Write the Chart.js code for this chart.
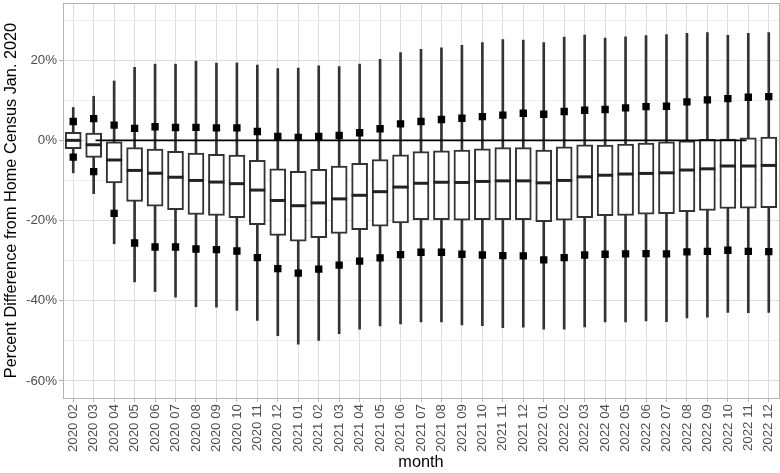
<!DOCTYPE html>
<html><head><meta charset="utf-8">
<script src="https://cdn.jsdelivr.net/npm/chart.js@4"></script>
<style>html,body{margin:0;padding:0;background:#fff}</style>
</head><body>
<canvas id="c" width="780" height="473"></canvas>
<script>
const months = ['2020 02','2020 03','2020 04','2020 05','2020 06','2020 07','2020 08','2020 09','2020 10','2020 11','2020 12',
 '2021 01','2021 02','2021 03','2021 04','2021 05','2021 06','2021 07','2021 08','2021 09','2021 10','2021 11','2021 12',
 '2022 01','2022 02','2022 03','2022 04','2022 05','2022 06','2022 07','2022 08','2022 09','2022 10','2022 11','2022 12'];
const whiskerHigh = [8.2,11.0,14.8,18.2,19.0,19.0,19.75,19.25,19.3,18.8,17.9,18.0,18.6,18.4,19.0,20.2,21.9,22.7,23.1,23.7,24.4,25.1,25.0,24.4,25.75,26.25,25.5,25.8,26.1,26.4,26.7,26.9,26.2,26.7,26.9];
const upperMark = [4.7,5.4,3.8,3.0,3.4,3.2,3.25,3.1,3.1,2.2,1.0,0.75,1.0,1.2,1.9,2.9,4.1,4.7,5.2,5.5,5.9,6.3,6.75,6.5,7.2,7.5,7.7,8.1,8.4,8.5,9.6,10.1,10.4,10.75,10.9];
const q3 = [2.0,1.8,-0.4,-1.8,-2.2,-2.75,-3.2,-3.5,-3.7,-5.0,-7.1,-7.75,-7.2,-6.4,-5.7,-4.8,-3.6,-2.8,-2.6,-2.4,-2.1,-1.8,-1.8,-2.4,-1.6,-1.1,-1.2,-0.9,-0.7,-0.4,-0.1,0.25,0.3,0.6,0.8];
const medians = [0.0,-1.1,-4.9,-7.5,-8.2,-9.2,-10.0,-10.4,-10.8,-12.4,-15.0,-16.3,-15.6,-14.6,-13.7,-12.8,-11.65,-10.7,-10.45,-10.5,-10.25,-10.1,-10.1,-10.6,-10.0,-9.1,-8.7,-8.4,-8.25,-8.1,-7.4,-7.1,-6.4,-6.4,-6.25];
const q1 = [-2.1,-4.25,-10.6,-15.2,-16.4,-17.3,-18.5,-18.75,-19.3,-21.05,-23.7,-25.15,-24.3,-23.2,-22.3,-21.4,-20.6,-19.8,-19.75,-19.9,-19.8,-19.8,-19.8,-20.3,-19.9,-19.3,-18.8,-18.7,-18.4,-18.3,-17.8,-17.5,-17.0,-16.9,-16.8];
const lowerMark = [-4.2,-7.8,-18.2,-25.6,-26.6,-26.6,-27.1,-27.25,-27.6,-29.25,-32.0,-33.1,-32.1,-31.1,-30.1,-29.3,-28.5,-27.9,-27.9,-28.4,-28.6,-28.75,-28.8,-29.8,-29.25,-28.6,-28.4,-28.3,-28.25,-28.3,-27.8,-27.7,-27.4,-27.7,-27.75];
const whiskerLow = [-8.1,-13.3,-25.8,-35.3,-37.7,-39.1,-41.5,-41.6,-42.4,-44.9,-48.7,-50.8,-49.9,-48.2,-47.1,-46.25,-45.75,-45.3,-45.3,-46.0,-46.2,-46.7,-46.6,-47.1,-47.1,-46.5,-45.3,-45.3,-45.0,-45.2,-44.3,-44.1,-42.9,-43.0,-42.9];
const yTicks = [-60,-50,-40,-30,-20,-10,0,10,20,30];
const refLine = [0, 0];

const FONT = 'Liberation Sans, Arial, sans-serif';
const GRID = '#dedede', MINOR = '#eeeeee', FRAME = '#b3b3b3';
const noPad = s => { s.paddingTop = 0; s.paddingBottom = 0; s.paddingLeft = 0; s.paddingRight = 0; };

new Chart(document.getElementById('c'), {
  type: 'bar',
  data: {
    labels: months,
    datasets: [
      { label: 'whisker', type: 'bar', data: months.map((m,i)=>[whiskerLow[i], whiskerHigh[i]]),
        backgroundColor: '#333333', borderWidth: 0, barThickness: 2, grouped: false, order: 5 },
      { label: 'box', type: 'bar', data: months.map((m,i)=>[q1[i], q3[i]]),
        backgroundColor: '#ffffff', borderColor: '#333333', borderWidth: 2, borderSkipped: false,
        barThickness: 16, grouped: false, order: 4 },
      { label: 'zero', type: 'line', xAxisID: 'x2', data: refLine.map((v,i)=>({x:i, y:v})),
        borderColor: '#000000', borderWidth: 1.7, pointRadius: 0, order: 3 },
      { label: 'median', type: 'line', data: medians, showLine: false, pointStyle: 'line',
        pointRadius: 8, pointBorderWidth: 3, pointBorderColor: '#222222', order: 2 },
      { label: 'upper', type: 'line', data: upperMark, showLine: false, pointStyle: 'rect',
        pointRadius: 5.2, pointBackgroundColor: '#000000', pointBorderWidth: 0, order: 1 },
      { label: 'lower', type: 'line', data: lowerMark, showLine: false, pointStyle: 'rect',
        pointRadius: 5.2, pointBackgroundColor: '#000000', pointBorderWidth: 0, order: 1 }
    ]
  },
  options: {
    responsive: false, animation: false,
    layout: { autoPadding: false, padding: { top: 3, right: 1, left: 0, bottom: 0 } },
    plugins: { legend: { display: false }, tooltip: { enabled: false } },
    scales: {
      x: {
        type: 'category', offset: true,
        grid: { offset: false, color: GRID, tickColor: FRAME, tickLength: 4 },
        border: { color: FRAME },
        ticks: { minRotation: 90, maxRotation: 90, autoSkip: false, padding: 2,
                 font: { family: FONT, size: 13.3 }, color: '#4d4d4d' },
        title: { display: true, text: 'month', color: '#000', font: { family: FONT, size: 16.3 }, padding: { top: 0, bottom: 1 } },
        afterFit: s => { s.height = 75; noPad(s); }
      },
      x2: {
        type: 'linear', position: 'top', min: 0, max: 1,
        grid: { display: false }, ticks: { display: false },
        border: { display: true, color: FRAME },
        afterFit: s => { s.height = 0; noPad(s); }
      },
      y: {
        type: 'linear', min: -64.25, max: 34.25,
        afterBuildTicks: s => { s.ticks = yTicks.map(v => ({ value: v })); },
        grid: { color: c => (c.tick && c.tick.value % 20 === 0) ? GRID : MINOR,
                tickColor: c => (c.tick && c.tick.value % 20 === 0) ? FRAME : 'rgba(0,0,0,0)',
                tickLength: 4 },
        border: { color: FRAME },
        ticks: { padding: 2, font: { family: FONT, size: 13.3 }, color: '#4d4d4d',
                 callback: v => (v % 20 === 0) ? v + '%' : '' },
        title: { display: true, text: 'Percent Difference from Home Census Jan. 2020', color: '#000',
                 font: { family: FONT, size: 16.3 }, padding: { top: 2, bottom: 0 } },
        afterFit: s => { s.width = 63; noPad(s); }
      },
      y2: {
        type: 'linear', position: 'right', min: 0, max: 1,
        grid: { display: false }, ticks: { display: false },
        border: { display: true, color: FRAME },
        afterFit: s => { s.width = 0; noPad(s); }
      }
    }
  }
});
</script>
</body></html>
